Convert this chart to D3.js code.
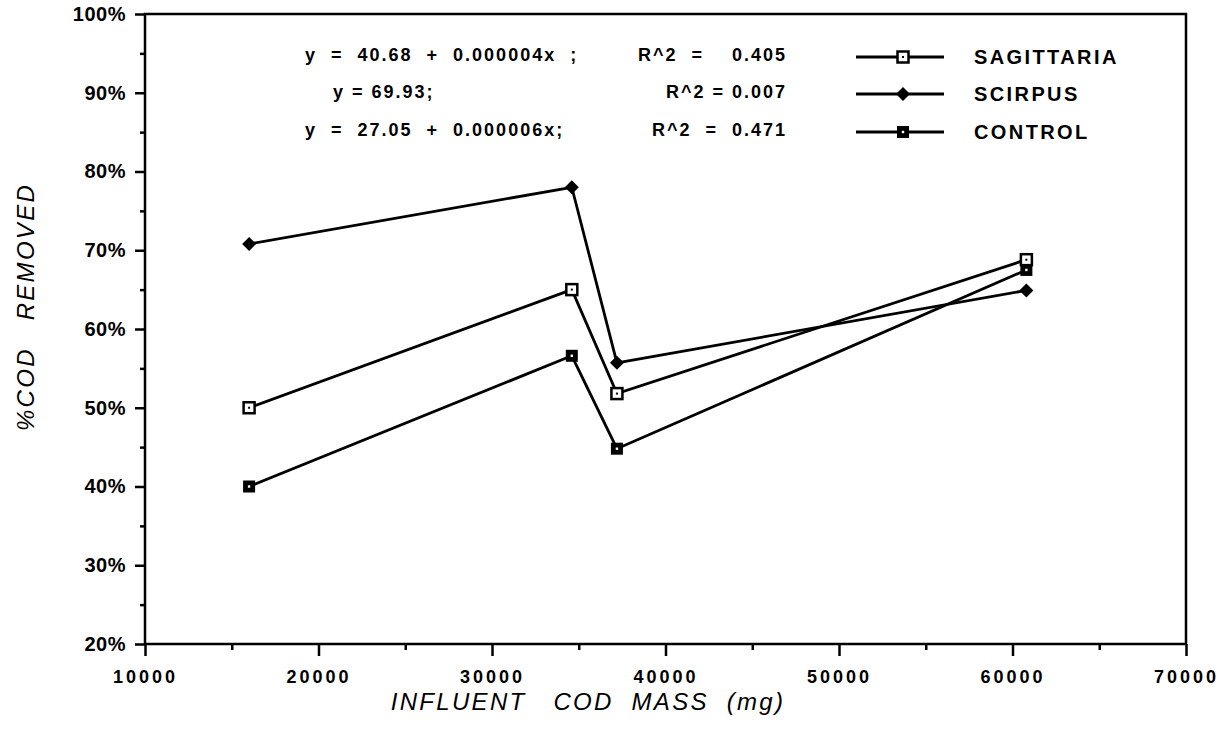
<!DOCTYPE html>
<html lang="en">
  <head>
    <meta charset="utf-8">
    <script src="https://d3js.org/d3.v7.min.js"></script>
    <style>
      body {margin: 0; background: white;}
      text {font-family: "Liberation Sans", Arial, sans-serif; fill: black;}
    </style>
  </head>
  <body>
    <script type="text/javascript">
      // data
      const influent = [16000, 34600, 37200, 60800];
      const sagittaria = [50.0, 65.0, 51.8, 68.8];
      const scirpus = [70.8, 78.0, 55.7, 64.9];
      const control = [40.0, 56.6, 44.8, 67.5];
      const seriesNames = ["SAGITTARIA", "SCIRPUS", "CONTROL"];
      const equations = [
        ["y  =  40.68  +  0.000004x  ;", "R^2  =    0.405"],
        ["y = 69.93;", "R^2 = 0.007"],
        ["y  =  27.05  +  0.000006x;", "R^2  =  0.471"]
      ];
      const xTicks = [10000, 20000, 30000, 40000, 50000, 60000, 70000];
      const yTicks = [20, 30, 40, 50, 60, 70, 80, 90, 100];

      const w = 1227;
      const h = 729;
      const plotLeft = 145, plotRight = 1186, plotTop = 14, plotBottom = 644;

      var svg = d3.select("body")
            .append("svg")
            .attr("width", w)
            .attr("height", h);

      var xScale = d3.scaleLinear().domain([10000, 70000]).range([plotLeft, plotRight]);
      var yScale = d3.scaleLinear().domain([20, 100]).range([plotBottom, plotTop]);

      // frame
      svg.append("rect")
          .attr("x", plotLeft).attr("y", plotTop)
          .attr("width", plotRight - plotLeft).attr("height", plotBottom - plotTop)
          .attr("fill", "none").attr("stroke", "black").attr("stroke-width", 2.5);

      // y axis: major ticks with labels, minor ticks between
      var yAxis = d3.axisLeft(yScale)
          .tickValues(yTicks)
          .tickSize(10)
          .tickPadding(9)
          .tickFormat(d => d + "%");
      var gy = svg.append("g").attr("transform", "translate(" + plotLeft + ",0)").call(yAxis);
      gy.select(".domain").remove();
      gy.selectAll("line").attr("stroke-width", 2.5);
      gy.selectAll("text").style("font-size", "20px").style("font-weight", "bold")
          .style("letter-spacing", "0.5px");

      var gy2 = svg.append("g").attr("transform", "translate(" + plotLeft + ",0)")
          .call(d3.axisLeft(yScale).tickValues(d3.range(25, 100, 10)).tickSize(5).tickFormat(""));
      gy2.select(".domain").remove();
      gy2.selectAll("line").attr("stroke-width", 2.5);

      // x axis
      var xAxis = d3.axisBottom(xScale)
          .tickValues(xTicks)
          .tickSize(12)
          .tickPadding(14)
          .tickFormat(d => d);
      var gx = svg.append("g").attr("transform", "translate(0," + plotBottom + ")").call(xAxis);
      gx.select(".domain").remove();
      gx.selectAll("line").attr("stroke-width", 2.5);
      gx.selectAll("text").style("font-size", "18px").style("font-weight", "bold")
          .style("letter-spacing", "3px");

      var gx2 = svg.append("g").attr("transform", "translate(0," + plotBottom + ")")
          .call(d3.axisBottom(xScale).tickValues(d3.range(15000, 70000, 10000)).tickSize(6).tickFormat(""));
      gx2.select(".domain").remove();
      gx2.selectAll("line").attr("stroke-width", 2.5);

      // axis titles
      svg.append("text")
          .attr("x", 588).attr("y", 710)
          .attr("text-anchor", "middle")
          .attr("xml:space", "preserve")
          .style("font-size", "24px").style("font-style", "italic")
          .style("letter-spacing", "2.3px")
          .text("INFLUENT   COD  MASS  (mg)");
      svg.append("text")
          .attr("transform", "translate(34,307) rotate(-90)")
          .attr("text-anchor", "middle")
          .attr("xml:space", "preserve")
          .style("font-size", "24px").style("font-style", "italic")
          .style("letter-spacing", "2.3px")
          .text("%COD   REMOVED");

      // series
      var series = [sagittaria, scirpus, control];
      var line = d3.line()
          .x((d, i) => xScale(influent[i]))
          .y(d => yScale(d));

      series.forEach(function(values) {
        svg.append("path")
            .datum(values)
            .attr("d", line)
            .attr("fill", "none")
            .attr("stroke", "black")
            .attr("stroke-width", 2.8);
      });

      function drawMarker(g, kind, cx, cy) {
        if (kind === 0) {
          g.append("rect").attr("x", cx - 5.5).attr("y", cy - 5.5).attr("width", 11).attr("height", 11)
              .attr("fill", "white").attr("stroke", "black").attr("stroke-width", 2.5);
          g.append("rect").attr("x", cx - 1).attr("y", cy - 1).attr("width", 2).attr("height", 2).attr("fill", "black");
        } else if (kind === 1) {
          g.append("path")
              .attr("d", "M" + cx + "," + (cy - 7) + "L" + (cx + 7) + "," + cy + "L" + cx + "," + (cy + 7) + "L" + (cx - 7) + "," + cy + "Z")
              .attr("fill", "black");
        } else {
          g.append("rect").attr("x", cx - 6).attr("y", cy - 6).attr("width", 12).attr("height", 12).attr("fill", "black");
          g.append("rect").attr("x", cx - 1.2).attr("y", cy - 1.2).attr("width", 2.4).attr("height", 2.4).attr("fill", "white");
        }
      }

      var markers = svg.append("g");
      series.forEach(function(values, k) {
        values.forEach(function(v, i) {
          drawMarker(markers, k, xScale(influent[i]), yScale(v));
        });
      });

      // legend
      var legendY = [57, 94, 132];
      seriesNames.forEach(function(name, k) {
        var g = svg.append("g");
        g.append("line").attr("x1", 856).attr("x2", 944)
            .attr("y1", legendY[k]).attr("y2", legendY[k])
            .attr("stroke", "black").attr("stroke-width", 2.8);
        drawMarker(g, k, 903, legendY[k]);
        g.append("text").attr("x", 974).attr("y", legendY[k]).attr("dy", "0.35em")
            .style("font-size", "20px").style("font-weight", "bold")
            .style("letter-spacing", "2.4px")
            .text(name);
      });

      // regression equations
      equations.forEach(function(eq, k) {
        svg.append("text").attr("x", k === 1 ? 333 : 305).attr("y", legendY[k] - 2).attr("dy", "0.35em")
            .attr("xml:space", "preserve")
            .style("font-size", "18px").style("font-weight", "bold")
            .style("letter-spacing", "2px")
            .text(eq[0]);
        svg.append("text").attr("x", 787).attr("y", legendY[k] - 2).attr("dy", "0.35em")
            .attr("text-anchor", "end")
            .attr("xml:space", "preserve")
            .style("font-size", "18px").style("font-weight", "bold")
            .style("letter-spacing", "2px")
            .text(eq[1]);
      });
    </script>
  </body>
</html>
